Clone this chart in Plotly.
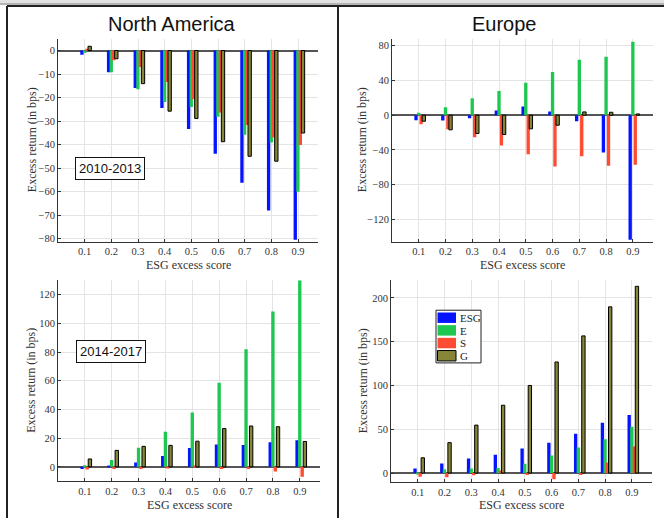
import plotly.graph_objects as go

W, H = 664, 521

scores = [0.1, 0.2, 0.3, 0.4, 0.5, 0.6, 0.7, 0.8, 0.9]
tick_labels = ["0.1", "0.2", "0.3", "0.4", "0.5", "0.6", "0.7", "0.8", "0.9"]
series_names = ["ESG", "E", "S", "G"]

# North America 2010-2013
na1_esg = [-1.8, -9.2, -15.9, -24.4, -33.4, -43.9, -56.3, -68.1, -80.5]
na1_e = [-1.0, -9.2, -16.5, -21.9, -24.0, -28.2, -35.8, -39.1, -60.1]
na1_s = [0.8, -4.1, -7.0, -13.4, -20.7, -26.4, -31.7, -37.0, -40.2]
na1_g = [1.8, -3.5, -14.1, -25.8, -28.9, -38.8, -45.0, -47.1, -35.1]

# Europe 2010-2013
eu1_esg = [-5.7, -6.1, -3.4, 5.4, 10.0, 4.2, -6.9, -42.9, -143.5]
eu1_e = [2.7, 9.2, 19.5, 27.9, 37.5, 49.8, 63.9, 67.4, 84.6]
eu1_s = [-10.3, -16.1, -25.3, -34.8, -44.8, -59.0, -47.1, -58.2, -57.0]
eu1_g = [-6.9, -16.8, -21.0, -22.2, -15.7, -11.5, 3.8, 3.4, 1.5]

# North America 2014-2017
na2_esg = [-1.4, 0.7, 3.0, 7.6, 13.1, 15.6, 15.2, 17.2, 18.6]
na2_e = [1.1, 4.8, 13.3, 24.4, 37.9, 58.6, 82.0, 108.3, 130.5]
na2_s = [-1.8, -1.4, -1.4, -0.5, 0.7, -1.4, -1.4, -3.2, -6.9]
na2_g = [5.5, 11.5, 14.3, 15.0, 17.9, 26.7, 28.5, 28.0, 17.7]

# Europe 2014-2017
eu2_esg = [5.3, 10.9, 16.6, 20.8, 27.9, 34.7, 44.9, 57.4, 66.4]
eu2_e = [-0.8, 4.2, 5.3, 5.7, 10.6, 20.0, 29.1, 38.5, 52.8]
eu2_s = [-4.2, -4.9, -2.6, 3.0, -2.3, -7.2, -2.3, 12.1, 30.2]
eu2_g = [17.4, 34.7, 54.7, 77.4, 100.0, 126.8, 156.6, 189.8, 213.2]

panels = [
    dict(data=[na1_esg, na1_e, na1_s, na1_g], px=(58, 318), py=(39, 243),
         yr=[-81.3, 5], dt=10),
    dict(data=[eu1_esg, eu1_e, eu1_s, eu1_g], px=(392, 653), py=(39, 243),
         yr=[-145.5, 88], dt=40),
    dict(data=[na2_esg, na2_e, na2_s, na2_g], px=(58, 320), py=(282, 484),
         yr=[-10, 130], dt=20),
    dict(data=[eu2_esg, eu2_e, eu2_s, eu2_g], px=(391, 652), py=(282, 485),
         yr=[-10.5, 220], dt=50),
]

colors = ["rgb(5,20,255)", "rgb(30,200,80)", "rgb(255,75,50)", "rgb(135,133,55)"]
offsets = [-0.0165, -0.0065, 0.0025, 0.0125]
bar_w = 0.0125

serif = "Liberation Serif"
sans = "Liberation Sans"


def px2x(v):
    return v / W


def px2y(v):
    return 1 - v / H


fig = go.Figure()
layout = dict(
    width=W, height=H, margin=dict(l=0, r=0, t=0, b=0),
    paper_bgcolor="white", plot_bgcolor="white",
    barmode="overlay", showlegend=False,
    font=dict(family=serif, size=10, color="#333"),
)

for i, p in enumerate(panels):
    n = "" if i == 0 else str(i + 1)
    for s in range(4):
        fig.add_trace(go.Bar(
            x=scores, y=p["data"][s], name=series_names[s],
            xaxis="x" + n, yaxis="y" + n,
            offset=offsets[s], width=bar_w,
            marker=dict(color=colors[s],
                        line=dict(color="black", width=1 if s == 3 else 0)),
        ))
    x0, x1 = p["px"]
    y0, y1 = p["py"]
    layout["xaxis" + n] = dict(
        domain=[x0 / W, x1 / W], anchor="y" + n, range=[0, 0.975],
        tickvals=scores, ticktext=tick_labels, ticks="inside", ticklen=3,
        tickcolor="#333", showgrid=True, gridcolor="#e4e4e4", gridwidth=1,
        showline=True, linecolor="#333", linewidth=1, zeroline=False,
        tickfont=dict(family=serif, size=10.5, color="#333"),
    )
    layout["yaxis" + n] = dict(
        domain=[1 - y1 / H, 1 - y0 / H], anchor="x" + n, range=p["yr"],
        dtick=p["dt"], tick0=0, ticks="inside", ticklen=3, tickcolor="#333",
        showgrid=True, gridcolor="#e4e4e4", gridwidth=1,
        showline=True, linecolor="#333", linewidth=1,
        zeroline=True, zerolinecolor="#555", zerolinewidth=1.5,
        tickfont=dict(family=serif, size=10.5, color="#333"),
    )

ann = []


def text(t, x, y, size, family, color="#333", angle=0, **kw):
    d = dict(text=t, x=px2x(x), y=px2y(y), xref="paper", yref="paper",
             showarrow=False, xanchor="center", yanchor="middle",
             textangle=angle, font=dict(family=family, size=size, color=color))
    d.update(kw)
    ann.append(d)


# titles
text("North America", 172, 24, 20, sans, "#111")
text("Europe", 504, 24, 20, sans, "#111")
# axis titles
for p, xl_y, yl_x in [(panels[0], 267, 32), (panels[1], 267, 362),
                      (panels[2], 508, 31), (panels[3], 508, 363)]:
    cx = (p["px"][0] + p["px"][1]) / 2
    cy = (p["py"][0] + p["py"][1]) / 2
    text("ESG excess score", cx, xl_y, 12, serif)
    text("Excess return (in bps)", yl_x, cy, 12, serif, angle=-90)
# period boxes
text("2010-2013", 110, 169.5, 13, sans, "#111", bgcolor="white",
     bordercolor="#111", borderwidth=1, borderpad=3)
text("2014-2017", 111, 354, 13, sans, "#111", bgcolor="white",
     bordercolor="#111", borderwidth=1, borderpad=3)

shapes = [
    # page frame
    dict(type="rect", xref="paper", yref="paper", x0=0, x1=1, y0=px2y(3), y1=1,
         fillcolor="#e2e2e2", line=dict(width=0), layer="above"),
    dict(type="rect", xref="paper", yref="paper", x0=0, x1=1, y0=px2y(5), y1=px2y(3),
         fillcolor="#b4b4b4", line=dict(width=0), layer="above"),
    dict(type="line", xref="paper", yref="paper", x0=px2x(7), x1=1, y0=px2y(6), y1=px2y(6),
         line=dict(color="#222", width=2), layer="above"),
    dict(type="line", xref="paper", yref="paper", x0=px2x(7), x1=px2x(7), y0=0, y1=px2y(6),
         line=dict(color="#222", width=2), layer="above"),
    dict(type="line", xref="paper", yref="paper", x0=px2x(338), x1=px2x(338), y0=0, y1=px2y(6),
         line=dict(color="#222", width=2), layer="above"),
    # legend box
    dict(type="rect", xref="paper", yref="paper", x0=px2x(436), x1=px2x(481),
         y0=px2y(365), y1=px2y(312), fillcolor="white",
         line=dict(color="#222", width=1), layer="above"),
]

# legend entries
row_top = 314.3
pitch = 12.75
for s in range(4):
    t = row_top + s * pitch
    shapes.append(dict(type="rect", xref="paper", yref="paper",
                       x0=px2x(437.5), x1=px2x(456), y0=px2y(t + 10.5), y1=px2y(t),
                       fillcolor=colors[s], layer="above",
                       line=dict(color="black", width=1 if s == 3 else 0)))
    text(series_names[s], 457.5, t + 5.5, 11, serif, "#222", xanchor="left")

layout["annotations"] = ann
layout["shapes"] = shapes

fig.update_layout(**layout)
fig.write_html("out.html", config={"displayModeBar": False},
               post_script="document.body.style.margin='0';document.body.style.padding='0';")
